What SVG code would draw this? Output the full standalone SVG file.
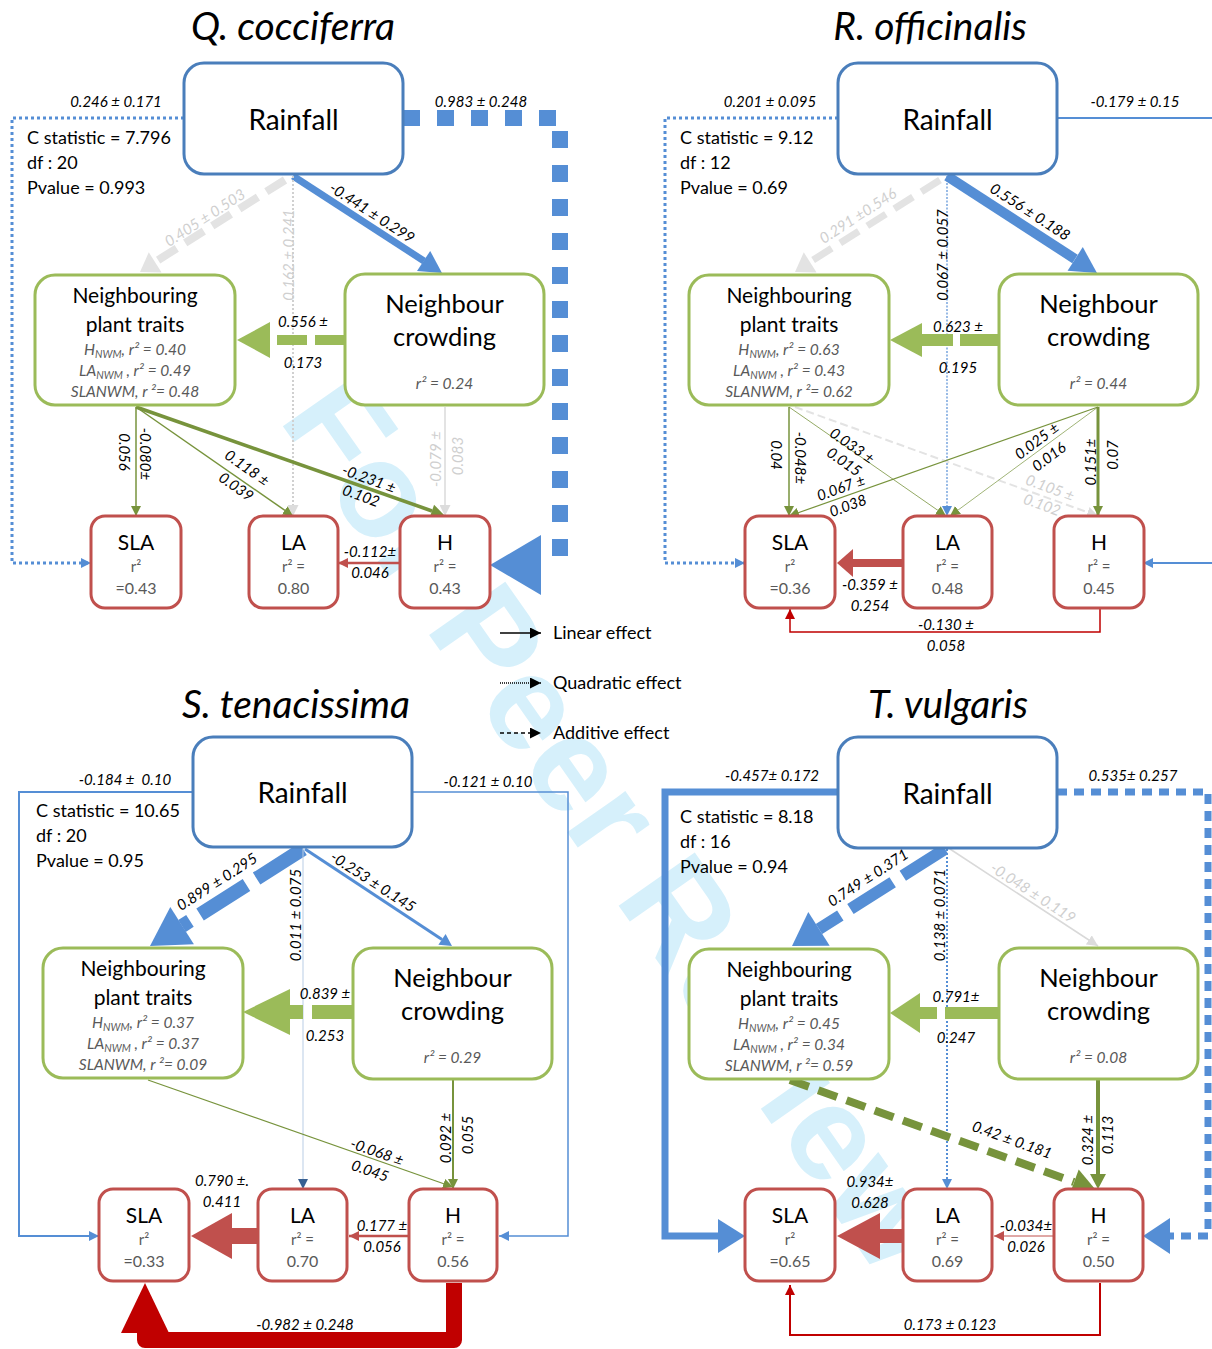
<svg xmlns="http://www.w3.org/2000/svg" width="1212" height="1349" viewBox="0 0 1212 1349">
<style>
text { font-family: Lato, "Open Sans", "Liberation Sans", sans-serif; fill:#000; }
.title { font-size:39px; font-style:italic; text-anchor:middle; }
.stat { font-size:18px; }
.rn { font-size:28px; text-anchor:middle; }
.np { font-size:21px; text-anchor:middle; }
.nc { font-size:25.5px; text-anchor:middle; }
.sub { font-size:15.5px; font-style:italic; fill:#595959; text-anchor:middle; }
.s { font-size:10.5px; }
.tn { font-size:21px; text-anchor:middle; }
.r2 { font-size:15px; fill:#595959; text-anchor:middle; }
.rv { font-size:16px; fill:#595959; text-anchor:middle; }
.lb { font-size:15px; font-style:italic; text-anchor:middle; }
.lg { fill:#cfcfcf; }
.leg { font-size:18px; }
.wm { font-family:"Liberation Sans", Arial, sans-serif; font-weight:bold; font-size:135px; fill:#d6f0fb; text-anchor:middle; }
rect.b { fill:#fff; stroke-width:3; }
.bb { stroke:#4a7ebb; } .bg { stroke:#9bbb59; } .br { stroke:#c0504d; }
.c { fill:none; }
.blue { stroke:#558ed5; } .grn { stroke:#77933c; } .lgr { stroke:#9bbb59; } .red { stroke:#c0504d; } .dred { stroke:#c00000; } .gry { stroke:#e3e3e3; }
</style>
<defs>
<marker id="mB" viewBox="0 0 10 10" refX="10" refY="5" markerWidth="10" markerHeight="10" markerUnits="userSpaceOnUse" orient="auto"><path d="M0,0 L10,5 L0,10 z" fill="#558ed5"/></marker>
<marker id="mGr" viewBox="0 0 10 10" refX="10" refY="5" markerWidth="10" markerHeight="10" markerUnits="userSpaceOnUse" orient="auto"><path d="M0,0 L10,5 L0,10 z" fill="#77933c"/></marker>
<marker id="mR" viewBox="0 0 10 10" refX="10" refY="5" markerWidth="10" markerHeight="10" markerUnits="userSpaceOnUse" orient="auto"><path d="M0,0 L10,5 L0,10 z" fill="#c0504d"/></marker>
<marker id="mDR" viewBox="0 0 10 10" refX="10" refY="5" markerWidth="10" markerHeight="10" markerUnits="userSpaceOnUse" orient="auto"><path d="M0,0 L10,5 L0,10 z" fill="#c00000"/></marker>
<marker id="mG" viewBox="0 0 10 10" refX="10" refY="5" markerWidth="11" markerHeight="11" markerUnits="userSpaceOnUse" orient="auto"><path d="M0,0 L10,5 L0,10 z" fill="#dcdcdc"/></marker>
<marker id="mN" viewBox="0 0 10 10" refX="10" refY="5" markerWidth="10" markerHeight="10" markerUnits="userSpaceOnUse" orient="auto"><path d="M0,0 L10,5 L0,10 z" fill="#376092"/></marker>
<marker id="mK" viewBox="0 0 10 10" refX="10" refY="5" markerWidth="11" markerHeight="11" markerUnits="userSpaceOnUse" orient="auto"><path d="M0,0 L10,5 L0,10 z" fill="#000"/></marker>
</defs>
<rect width="1212" height="1349" fill="#fff"/>
<text class="wm" transform="translate(579,849) rotate(55)">For Peer Review</text>

<!-- Titles -->
<text class="title" x="293" y="40">Q. cocciferra</text>
<text class="title" x="930" y="40">R. officinalis</text>
<text class="title" x="296" y="718">S. tenacissima</text>
<text class="title" x="948" y="718">T. vulgaris</text>

<!-- ============ Panel 1: Q. cocciferra ============ -->
<g id="panel-q">
 <g id="q-connectors">
  <path class="c blue" d="M184,118 H12 V563 H91" stroke-width="3" stroke-dasharray="3,3" marker-end="url(#mB)"/>
  <path class="c blue" d="M403,118 H560 V568" stroke-width="16" stroke-dasharray="17,17"/>
  <polygon points="490,565 541,535 541,595" fill="#558ed5"/>
  <line class="blue" x1="293" y1="176" x2="424" y2="261" stroke-width="7"/>
  <polygon points="442,273 417,271.1 430.2,250.9" fill="#558ed5"/>
  <line class="gry" x1="285" y1="180" x2="155" y2="262" stroke-width="8" stroke-dasharray="22,10"/>
  <polygon points="140,272 148.8,252.3 161.6,272.5" fill="#e3e3e3"/>
  <line x1="293" y1="176" x2="293" y2="516" stroke="#d0d0d0" stroke-width="2" stroke-dasharray="2,2" marker-end="url(#mG)"/>
  <line class="lgr" x1="345" y1="340" x2="270" y2="340" stroke-width="10" stroke-dasharray="30,8"/>
  <polygon points="237,340 270,322 270,358" fill="#9bbb59"/>
  <line class="grn" x1="136" y1="407" x2="136" y2="516" stroke-width="1.5" marker-end="url(#mGr)"/>
  <line class="grn" x1="136" y1="407" x2="293" y2="516" stroke-width="1.5" marker-end="url(#mGr)"/>
  <line class="grn" x1="136" y1="407" x2="432" y2="511" stroke-width="3.5"/>
  <polygon points="445,516 429.5,517.9 434.1,504.7" fill="#77933c"/>
  <line class="gry" x1="445" y1="407" x2="445" y2="516" stroke-width="2" marker-end="url(#mG)"/>
  <line class="red" x1="400" y1="563" x2="338" y2="563" stroke-width="2.5" marker-end="url(#mR)"/>
 </g>
 <g id="q-rainfall"><rect class="b bb" x="184" y="63" width="219" height="111" rx="20"/><text class="rn" x="293.5" y="130">Rainfall</text></g>
 <g id="q-npt"><rect class="b bg" x="35" y="275" width="200" height="130" rx="20"/>
  <text class="np" x="135" y="303">Neighbouring</text><text class="np" x="135" y="332">plant traits</text>
  <text class="sub" x="135" y="355">H<tspan class="s" dy="3">NWM</tspan><tspan dy="-3">, r² = 0.40</tspan></text>
  <text class="sub" x="135" y="376">LA<tspan class="s" dy="3">NWM</tspan><tspan dy="-3"> , r² = 0.49</tspan></text>
  <text class="sub" x="135" y="397">SLANWM, r ²= 0.48</text></g>
 <g id="q-nc"><rect class="b bg" x="345" y="274" width="199" height="131" rx="20"/>
  <text class="nc" x="444.5" y="313">Neighbour</text><text class="nc" x="444.5" y="346">crowding</text>
  <text class="sub" x="444.5" y="389">r² = 0.24</text></g>
 <g id="q-sla"><rect class="b br" x="91" y="516" width="90" height="92" rx="14"/><text class="tn" x="136" y="550">SLA</text><text class="r2" x="136" y="572">r²</text><text class="rv" x="136" y="594">=0.43</text></g>
 <g id="q-la"><rect class="b br" x="249" y="516" width="89" height="92" rx="14"/><text class="tn" x="293.5" y="550">LA</text><text class="r2" x="293.5" y="572">r² =</text><text class="rv" x="293.5" y="594">0.80</text></g>
 <g id="q-h"><rect class="b br" x="400" y="516" width="90" height="92" rx="14"/><text class="tn" x="445" y="550">H</text><text class="r2" x="445" y="572">r² =</text><text class="rv" x="445" y="594">0.43</text></g>
 <g id="q-labels">
  <text class="stat" x="27" y="144">C statistic = 7.796</text>
  <text class="stat" x="27" y="169">df : 20</text>
  <text class="stat" x="27" y="194">Pvalue = 0.993</text>
  <text class="lb" x="116" y="107">0.246 ± 0.171</text>
  <text class="lb" x="481" y="107">0.983 ± 0.248</text>
  <text class="lb" transform="translate(372,213) rotate(33)" y="5">-0.441 ± 0.299</text>
  <text class="lb lg" transform="translate(205,218) rotate(-33)" y="5">0.405 ± 0.503</text>
  <text class="lb lg" transform="translate(289,255) rotate(-90)" y="5">0.162 ± 0.241</text>
  <text class="lb" x="303" y="327">0.556 ±</text>
  <text class="lb" x="303" y="368">0.173</text>
  <text class="lb" transform="translate(145,454) rotate(90)" y="5">-0.080±</text>
  <text class="lb" transform="translate(124,452) rotate(90)" y="5">0.056</text>
  <text class="lb" transform="translate(247,468) rotate(35)" y="5">0.118 ±</text>
  <text class="lb" transform="translate(236,487) rotate(35)" y="5">0.039</text>
  <text class="lb" transform="translate(369,479) rotate(20)" y="5">-0.231 ±</text>
  <text class="lb" transform="translate(361,496) rotate(20)" y="5">0.102</text>
  <text class="lb lg" transform="translate(436,459) rotate(-90)" y="5">-0.079 ±</text>
  <text class="lb lg" transform="translate(458,456) rotate(-90)" y="5">0.083</text>
  <text class="lb" x="370" y="557">-0.112±</text>
  <text class="lb" x="370" y="578">0.046</text>
 </g>
</g>

<!-- ============ Panel 2: R. officinalis ============ -->
<g id="panel-r" transform="translate(654,0)">
 <g id="r-connectors">
  <path class="c blue" d="M184,118 H11 V563 H91" stroke-width="3" stroke-dasharray="3,3" marker-end="url(#mB)"/>
  <line class="blue" x1="403" y1="118" x2="560" y2="118" stroke-width="2"/>
  <line class="blue" x1="560" y1="563" x2="489" y2="563" stroke-width="2" marker-end="url(#mB)"/>
  <line class="blue" x1="293" y1="176" x2="421" y2="259" stroke-width="10"/>
  <polygon points="443,273 413.6,270.7 428.8,247.1" fill="#558ed5"/>
  <line class="gry" x1="286" y1="180" x2="156" y2="262" stroke-width="7" stroke-dasharray="22,10"/>
  <polygon points="141,272 149.8,252.3 162.6,272.5" fill="#e3e3e3"/>
  <line class="blue" x1="293" y1="176" x2="293" y2="516" stroke-width="1.2" stroke-dasharray="2,1.5" marker-end="url(#mB)"/>
  <line class="lgr" x1="344" y1="340" x2="306" y2="340" stroke-width="12"/>
  <line class="lgr" x1="299" y1="340" x2="266" y2="340" stroke-width="12"/>
  <polygon points="236,340 268,323 268,357" fill="#9bbb59"/>
  <line class="grn" x1="135" y1="407" x2="135" y2="516" stroke-width="1.5" marker-end="url(#mGr)"/>
  <line class="grn" x1="135" y1="407" x2="292" y2="516" stroke-width="0.8" marker-end="url(#mGr)"/>
  <line class="gry" x1="141" y1="407" x2="444" y2="516" stroke-width="2" stroke-dasharray="8,4" marker-end="url(#mG)"/>
  <line class="grn" x1="444" y1="407" x2="135" y2="516" stroke-width="1.2" marker-end="url(#mGr)"/>
  <line class="grn" x1="444" y1="407" x2="296" y2="516" stroke-width="0.7" marker-end="url(#mGr)"/>
  <line class="grn" x1="444" y1="407" x2="444" y2="516" stroke-width="3" marker-end="url(#mGr)"/>
  <line class="red" x1="249" y1="563" x2="197" y2="563" stroke-width="8"/>
  <polygon points="183,563 199,549 199,577" fill="#c0504d"/>
  <path class="c dred" d="M446,608 V632 H136 V609" stroke-width="1.5" marker-end="url(#mDR)"/>
 </g>
 <g id="r-rainfall"><rect class="b bb" x="184" y="63" width="219" height="111" rx="20"/><text class="rn" x="293.5" y="130">Rainfall</text></g>
 <g id="r-npt"><rect class="b bg" x="35" y="275" width="200" height="130" rx="20"/>
  <text class="np" x="135" y="303">Neighbouring</text><text class="np" x="135" y="332">plant traits</text>
  <text class="sub" x="135" y="355">H<tspan class="s" dy="3">NWM</tspan><tspan dy="-3">, r² = 0.63</tspan></text>
  <text class="sub" x="135" y="376">LA<tspan class="s" dy="3">NWM</tspan><tspan dy="-3"> , r² = 0.43</tspan></text>
  <text class="sub" x="135" y="397">SLANWM, r ²= 0.62</text></g>
 <g id="r-nc"><rect class="b bg" x="345" y="274" width="199" height="131" rx="20"/>
  <text class="nc" x="444.5" y="313">Neighbour</text><text class="nc" x="444.5" y="346">crowding</text>
  <text class="sub" x="444.5" y="389">r² = 0.44</text></g>
 <g id="r-sla"><rect class="b br" x="91" y="516" width="90" height="92" rx="14"/><text class="tn" x="136" y="550">SLA</text><text class="r2" x="136" y="572">r²</text><text class="rv" x="136" y="594">=0.36</text></g>
 <g id="r-la"><rect class="b br" x="249" y="516" width="89" height="92" rx="14"/><text class="tn" x="293.5" y="550">LA</text><text class="r2" x="293.5" y="572">r² =</text><text class="rv" x="293.5" y="594">0.48</text></g>
 <g id="r-h"><rect class="b br" x="400" y="516" width="90" height="92" rx="14"/><text class="tn" x="445" y="550">H</text><text class="r2" x="445" y="572">r² =</text><text class="rv" x="445" y="594">0.45</text></g>
 <g id="r-labels">
  <text class="stat" x="26" y="144">C statistic = 9.12</text>
  <text class="stat" x="26" y="169">df : 12</text>
  <text class="stat" x="26" y="194">Pvalue = 0.69</text>
  <text class="lb" x="116" y="107">0.201 ± 0.095</text>
  <text class="lb" x="481" y="107">-0.179 ± 0.15</text>
  <text class="lb" transform="translate(376,212) rotate(33)" y="5">0.556 ± 0.188</text>
  <text class="lb lg" transform="translate(204,216) rotate(-33)" y="5">0.291 ±0.546</text>
  <text class="lb" transform="translate(289,255) rotate(-90)" y="5">0.067 ± 0.057</text>
  <text class="lb" x="304" y="332">0.623 ±</text>
  <text class="lb" x="304" y="373">0.195</text>
  <text class="lb" transform="translate(146,458) rotate(90)" y="5">-0.048±</text>
  <text class="lb" transform="translate(122,455) rotate(90)" y="5">0.04</text>
  <text class="lb" transform="translate(198,446) rotate(35)" y="5">0.033 ±</text>
  <text class="lb" transform="translate(190,462) rotate(35)" y="5">0.015</text>
  <text class="lb lg" transform="translate(396,488) rotate(20)" y="5">0.105 ±</text>
  <text class="lb lg" transform="translate(388,505) rotate(20)" y="5">0.102</text>
  <text class="lb" transform="translate(187,488) rotate(-20)" y="5">0.067 ±</text>
  <text class="lb" transform="translate(194,506) rotate(-20)" y="5">0.038</text>
  <text class="lb" transform="translate(383,441) rotate(-37)" y="5">0.025 ±</text>
  <text class="lb" transform="translate(395,457) rotate(-37)" y="5">0.016</text>
  <text class="lb" transform="translate(437,462) rotate(-90)" y="5">0.151±</text>
  <text class="lb" transform="translate(459,455) rotate(-90)" y="5">0.07</text>
  <text class="lb" x="216" y="590">-0.359 ±</text>
  <text class="lb" x="216" y="611">0.254</text>
  <text class="lb" x="292" y="630">-0.130 ±</text>
  <text class="lb" x="292" y="651">0.058</text>
 </g>
</g>

<!-- ============ Legend ============ -->
<g id="legend">
 <line x1="500" y1="633" x2="541" y2="633" stroke="#000" stroke-width="1.3" marker-end="url(#mK)"/>
 <text class="leg" x="553" y="639">Linear effect</text>
 <line x1="500" y1="683" x2="541" y2="683" stroke="#000" stroke-width="1.3" stroke-dasharray="1,1" marker-end="url(#mK)"/>
 <text class="leg" x="553" y="689">Quadratic effect</text>
 <line x1="500" y1="733" x2="541" y2="733" stroke="#000" stroke-width="1.3" stroke-dasharray="4,3" marker-end="url(#mK)"/>
 <text class="leg" x="553" y="739">Additive effect</text>
</g>

<!-- ============ Panel 3: S. tenacissima ============ -->
<g id="panel-s" transform="translate(9,673)">
 <g id="s-connectors">
  <path class="c blue" d="M184,119 H10 V563 H90" stroke-width="2" marker-end="url(#mB)"/>
  <path class="c blue" d="M403,119 H559 V563 H490" stroke-width="1.5" marker-end="url(#mB)"/>
  <line class="blue" x1="294" y1="176" x2="173" y2="253" stroke-width="14" stroke-dasharray="55,12"/>
  <polygon points="141,273 161.3,234.1 184.9,271.3" fill="#558ed5"/>
  <line class="blue" x1="296" y1="176" x2="433" y2="266.4" stroke-width="3"/>
  <polygon points="443,273 429.4,271.8 436.6,261" fill="#558ed5"/>
  <line x1="294" y1="176" x2="294" y2="516" stroke="#b9cde5" stroke-width="1" marker-end="url(#mN)"/>
  <line class="lgr" x1="345" y1="339" x2="279" y2="339" stroke-width="14" stroke-dasharray="42,9"/>
  <polygon points="234,339 281,316 281,362" fill="#9bbb59"/>
  <line class="grn" x1="139" y1="407" x2="444" y2="514" stroke-width="1.2" marker-end="url(#mGr)"/>
  <line class="grn" x1="444" y1="406" x2="444" y2="516" stroke-width="2" marker-end="url(#mGr)"/>
  <line class="red" x1="249" y1="563" x2="220" y2="563" stroke-width="16"/>
  <polygon points="182,563 223,540 223,586" fill="#c0504d"/>
  <line class="red" x1="400" y1="563" x2="340" y2="563" stroke-width="2.5" marker-end="url(#mR)"/>
  <path class="c dred" d="M445,610 V667 H136 V655" stroke-width="16" stroke-linejoin="round"/>
  <polygon points="136,610 112,660 160,660" fill="#c00000"/>
 </g>
 <g id="s-rainfall"><rect class="b bb" x="184" y="64" width="219" height="110" rx="20"/><text class="rn" x="293.5" y="130">Rainfall</text></g>
 <g id="s-npt"><rect class="b bg" x="34" y="275" width="200" height="130" rx="20"/>
  <text class="np" x="134" y="303">Neighbouring</text><text class="np" x="134" y="332">plant traits</text>
  <text class="sub" x="134" y="355">H<tspan class="s" dy="3">NWM</tspan><tspan dy="-3">, r² = 0.37</tspan></text>
  <text class="sub" x="134" y="376">LA<tspan class="s" dy="3">NWM</tspan><tspan dy="-3"> , r² = 0.37</tspan></text>
  <text class="sub" x="134" y="397">SLANWM, r ²= 0.09</text></g>
 <g id="s-nc"><rect class="b bg" x="344" y="275" width="199" height="131" rx="20"/>
  <text class="nc" x="443.5" y="314">Neighbour</text><text class="nc" x="443.5" y="347">crowding</text>
  <text class="sub" x="443.5" y="390">r² = 0.29</text></g>
 <g id="s-sla"><rect class="b br" x="90" y="516" width="90" height="92" rx="14"/><text class="tn" x="135" y="550">SLA</text><text class="r2" x="135" y="572">r²</text><text class="rv" x="135" y="594">=0.33</text></g>
 <g id="s-la"><rect class="b br" x="249" y="516" width="89" height="92" rx="14"/><text class="tn" x="293.5" y="550">LA</text><text class="r2" x="293.5" y="572">r² =</text><text class="rv" x="293.5" y="594">0.70</text></g>
 <g id="s-h"><rect class="b br" x="400" y="516" width="88" height="92" rx="14"/><text class="tn" x="444" y="550">H</text><text class="r2" x="444" y="572">r² =</text><text class="rv" x="444" y="594">0.56</text></g>
 <g id="s-labels">
  <text class="stat" x="27" y="144">C statistic = 10.65</text>
  <text class="stat" x="27" y="169">df : 20</text>
  <text class="stat" x="27" y="194">Pvalue = 0.95</text>
  <text class="lb" x="116" y="112">-0.184 ±&#160; 0.10</text>
  <text class="lb" x="479" y="114">-0.121 ± 0.10</text>
  <text class="lb" transform="translate(208,209) rotate(-33)" y="5">0.899 ± 0.295</text>
  <text class="lb" transform="translate(364,209) rotate(33)" y="5">-0.253 ± 0.145</text>
  <text class="lb" transform="translate(287,242) rotate(-90)" y="5">0.011 ± 0.075</text>
  <text class="lb" x="316" y="326">0.839 ±</text>
  <text class="lb" x="316" y="368">0.253</text>
  <text class="lb" transform="translate(368,479) rotate(19)" y="5">-0.068 ±</text>
  <text class="lb" transform="translate(361,498) rotate(19)" y="5">0.045</text>
  <text class="lb" transform="translate(437,465) rotate(-90)" y="5">0.092 ±</text>
  <text class="lb" transform="translate(459,462) rotate(-90)" y="5">0.055</text>
  <text class="lb" x="213" y="513">0.790 ±.</text>
  <text class="lb" x="213" y="534">0.411</text>
  <text class="lb" x="373" y="558">0.177 ±</text>
  <text class="lb" x="373" y="579">0.056</text>
  <text class="lb" x="296" y="657">-0.982 ± 0.248</text>
 </g>
</g>

<!-- ============ Panel 4: T. vulgaris ============ -->
<g id="panel-t" transform="translate(654,674)">
 <g id="t-connectors">
  <path class="c blue" d="M184,118 H11 V562 H64" stroke-width="7"/>
  <polygon points="91,562 64,545 64,579" fill="#558ed5"/>
  <path class="c blue" d="M403,118 H554 V562 H516" stroke-width="7" stroke-dasharray="10,7"/>
  <polygon points="489,562 516,544 516,580" fill="#558ed5"/>
  <line class="blue" x1="291" y1="175" x2="165" y2="255" stroke-width="12" stroke-dasharray="50,12"/>
  <polygon points="138,272 154.3,238 175.7,271.8" fill="#558ed5"/>
  <line x1="296" y1="175" x2="444" y2="272" stroke="#d9d9d9" stroke-width="1.5" marker-end="url(#mG)"/>
  <line class="blue" x1="293" y1="175" x2="293" y2="515" stroke-width="2" stroke-dasharray="2,2" marker-end="url(#mB)"/>
  <line class="lgr" x1="344" y1="339" x2="266" y2="339" stroke-width="12" stroke-dasharray="53,8"/>
  <polygon points="236,339 266,319 266,359" fill="#9bbb59"/>
  <line class="grn" x1="136" y1="406" x2="420" y2="508" stroke-width="8" stroke-dasharray="20,10"/>
  <polygon points="441,515 415.9,519.8 424.7,495.4" fill="#77933c"/>
  <line class="grn" x1="444" y1="406" x2="444" y2="501" stroke-width="4"/>
  <polygon points="444,515 436,500 452,500" fill="#77933c"/>
  <line class="red" x1="249" y1="562" x2="222" y2="562" stroke-width="14"/>
  <polygon points="183,562 226,539 226,585" fill="#c0504d"/>
  <line class="red" x1="400" y1="562" x2="340" y2="562" stroke-width="1" marker-end="url(#mR)"/>
  <path class="c dred" d="M446,609 V661 H136 V611" stroke-width="2" marker-end="url(#mDR)"/>
 </g>
 <g id="t-rainfall"><rect class="b bb" x="184" y="63" width="219" height="111" rx="20"/><text class="rn" x="293.5" y="130">Rainfall</text></g>
 <g id="t-npt"><rect class="b bg" x="35" y="275" width="200" height="130" rx="20"/>
  <text class="np" x="135" y="303">Neighbouring</text><text class="np" x="135" y="332">plant traits</text>
  <text class="sub" x="135" y="355">H<tspan class="s" dy="3">NWM</tspan><tspan dy="-3">, r² = 0.45</tspan></text>
  <text class="sub" x="135" y="376">LA<tspan class="s" dy="3">NWM</tspan><tspan dy="-3"> , r² = 0.34</tspan></text>
  <text class="sub" x="135" y="397">SLANWM, r ²= 0.59</text></g>
 <g id="t-nc"><rect class="b bg" x="345" y="274" width="199" height="131" rx="20"/>
  <text class="nc" x="444.5" y="313">Neighbour</text><text class="nc" x="444.5" y="346">crowding</text>
  <text class="sub" x="444.5" y="389">r² = 0.08</text></g>
 <g id="t-sla"><rect class="b br" x="91" y="515" width="90" height="92" rx="14"/><text class="tn" x="136" y="549">SLA</text><text class="r2" x="136" y="571">r²</text><text class="rv" x="136" y="593">=0.65</text></g>
 <g id="t-la"><rect class="b br" x="249" y="515" width="89" height="92" rx="14"/><text class="tn" x="293.5" y="549">LA</text><text class="r2" x="293.5" y="571">r² =</text><text class="rv" x="293.5" y="593">0.69</text></g>
 <g id="t-h"><rect class="b br" x="400" y="515" width="89" height="92" rx="14"/><text class="tn" x="444.5" y="549">H</text><text class="r2" x="444.5" y="571">r² =</text><text class="rv" x="444.5" y="593">0.50</text></g>
 <g id="t-labels">
  <text class="stat" x="26" y="149">C statistic = 8.18</text>
  <text class="stat" x="26" y="174">df : 16</text>
  <text class="stat" x="26" y="199">Pvalue = 0.94</text>
  <text class="lb" x="118" y="107">-0.457± 0.172</text>
  <text class="lb" x="479" y="107">0.535± 0.257</text>
  <text class="lb" transform="translate(214,204) rotate(-33)" y="5">0.749 ± 0.371</text>
  <text class="lb lg" transform="translate(379,219) rotate(33)" y="5">-0.048 ± 0.119</text>
  <text class="lb" transform="translate(286,241) rotate(-90)" y="5">0.138 ± 0.071</text>
  <text class="lb" x="302" y="328">0.791±</text>
  <text class="lb" x="302" y="369">0.247</text>
  <text class="lb" transform="translate(358,466) rotate(20)" y="5">0.42 ± 0.181</text>
  <text class="lb" transform="translate(434,466) rotate(-90)" y="5">0.324 ±</text>
  <text class="lb" transform="translate(454,461) rotate(-90)" y="5">0.113</text>
  <text class="lb" x="216" y="513">0.934±</text>
  <text class="lb" x="216" y="534">0.628</text>
  <text class="lb" x="372" y="557">-0.034±</text>
  <text class="lb" x="372" y="578">0.026</text>
  <text class="lb" x="296" y="656">0.173 ± 0.123</text>
 </g>
</g>
</svg>
